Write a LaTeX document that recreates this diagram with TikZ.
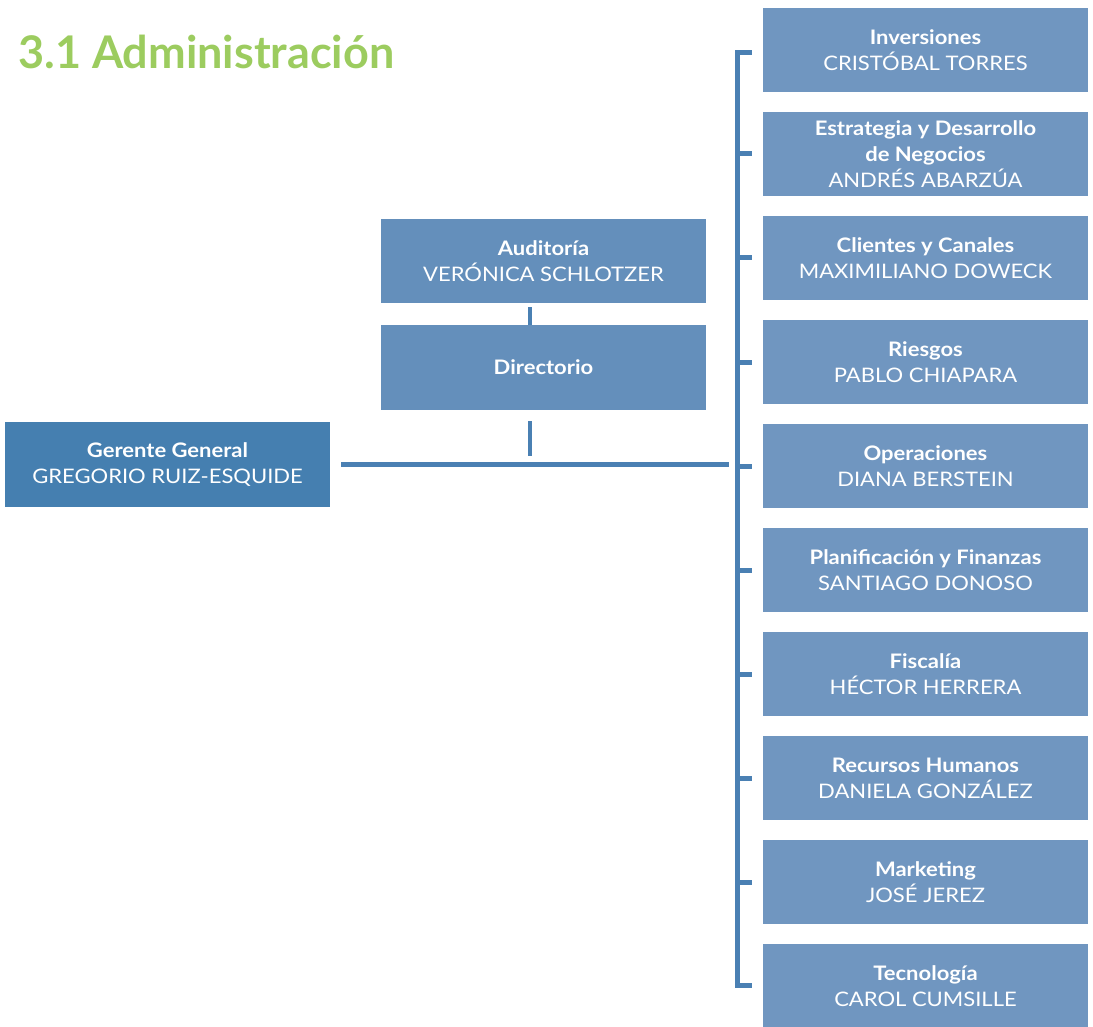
\documentclass[tikz,border=0pt]{standalone}
\usepackage{fontspec}
\setmainfont{Lato}[FakeStretch=1.1]
\newfontfamily\titlefont{Lato}
\definecolor{titlegreen}{HTML}{9CCC5F}
\definecolor{boxlight}{HTML}{7096C0}
\definecolor{boxmid}{HTML}{648FBB}
\definecolor{boxdark}{HTML}{457FB0}
\definecolor{linecol}{HTML}{4A80B3}
\newcommand{\bl}[1]{{\fontsize{20}{26}\selectfont\bfseries #1}}
\newcommand{\nm}[1]{{\fontsize{20}{26}\selectfont #1}}
\begin{document}
\begin{tikzpicture}[x=1pt,y=-1pt,
  orgbox/.style={rectangle, minimum width=325pt, minimum height=84pt, inner sep=0pt,
    text=white, align=center, font=\fontsize{20}{26}\selectfont},
  rbox/.style={orgbox, fill=boxlight},
  mbox/.style={orgbox, fill=boxmid},
  dbox/.style={orgbox, fill=boxdark, minimum height=85pt},
  conn/.style={draw=linecol, line width=5pt},
  thinconn/.style={draw=linecol, line width=4pt}]
\useasboundingbox (0,0) rectangle (1093,1027);

\node[anchor=base west, text=titlegreen, inner sep=0pt,
  font=\titlefont\fontsize{45}{50}\selectfont\bfseries] (title) at (18,69) {3.1 Administración};

% left and middle
\node[dbox] (gg) at (167.5,464.5) {\bl{Gerente General}\\\nm{GREGORIO RUIZ-ESQUIDE}};
\node[mbox] (aud) at (543.5,261) {\bl{Auditoría}\\\nm{VERÓNICA SCHLOTZER}};
\node[mbox, minimum height=85pt] (dir) at (543.5,367.5) {\bl{Directorio}};

% right column
\node[rbox] (r1) at (925.5,50) {\bl{Inversiones}\\\nm{CRISTÓBAL TORRES}};
\node[rbox] (r2) at (925.5,154) {\bl{Estrategia y Desarrollo}\\\bl{de Negocios}\\\nm{ANDRÉS ABARZÚA}};
\node[rbox] (r3) at (925.5,258) {\bl{Clientes y Canales}\\\nm{MAXIMILIANO DOWECK}};
\node[rbox] (r4) at (925.5,362) {\bl{Riesgos}\\\nm{PABLO CHIAPARA}};
\node[rbox] (r5) at (925.5,466) {\bl{Operaciones}\\\nm{DIANA BERSTEIN}};
\node[rbox] (r6) at (925.5,570) {\bl{Planificación y Finanzas}\\\nm{SANTIAGO DONOSO}};
\node[rbox] (r7) at (925.5,674) {\bl{Fiscalía}\\\nm{HÉCTOR HERRERA}};
\node[rbox] (r8) at (925.5,778) {\bl{Recursos Humanos}\\\nm{DANIELA GONZÁLEZ}};
\node[rbox] (r9) at (925.5,882) {\bl{Marketing}\\\nm{JOSÉ JEREZ}};
\node[rbox] (r10) at (925.5,986) {\bl{Tecnología}\\\nm{CAROL CUMSILLE}};

% bracket spine
\coordinate (sptop) at (737.5,52.5);
\coordinate (spbot) at (737.5,985.5);
\draw[conn] ([xshift=-11pt]r1.west |- sptop) -- (sptop) -- (spbot) -- ([xshift=-11pt]r10.west |- spbot);
\foreach \i in {2,...,9}{
  \draw[conn] ([xshift=-11pt]r\i.west) -- (sptop |- r\i.west);
}

% main horizontal line
\coordinate (mainend) at (729,464.5);
\draw[conn] ([xshift=11pt]gg.east) -- (mainend);

% directorio connectors
\coordinate (dirlink) at (530,456);
\draw[thinconn] ([yshift=-4pt]aud.south -| dirlink) -- (dir.north -| dirlink);
\draw[thinconn] ([yshift=-11pt]dir.south -| dirlink) -- (dirlink);
\end{tikzpicture}
\end{document}
